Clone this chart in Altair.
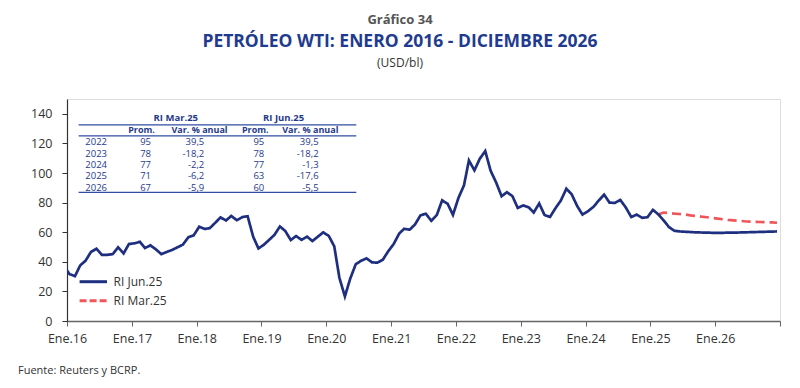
import altair as alt
import pandas as pd

# ---------------- data ----------------
# Monthly WTI average (USD/bl), from Dec-2015 to May-2025 (history)
hist_values = [
    37.2,
    31.7, 30.3, 37.5, 40.8, 46.7, 48.8, 44.7, 44.7, 45.2, 49.8, 45.7, 52.0,
    52.5, 53.5, 49.3, 51.1, 48.5, 45.2, 46.6, 48.0, 49.8, 51.6, 56.6, 57.9,
    63.7, 62.2, 62.7, 66.3, 70.0, 67.9, 71.0, 68.1, 70.2, 70.8, 57.0, 49.0,
    51.6, 55.0, 58.2, 63.9, 60.8, 54.7, 57.4, 54.8, 57.0, 54.0, 57.0, 59.9,
    57.5, 50.5, 29.2, 16.6, 28.6, 38.3, 40.7, 42.3, 39.6, 39.4, 41.4, 47.1,
    52.0, 59.1, 62.3, 61.7, 65.2, 71.4, 72.5, 67.7, 71.6, 81.5, 79.2, 71.7,
    83.2, 91.6, 108.5, 101.8, 109.6, 114.8, 101.6, 93.7, 84.3, 87.0, 84.4, 76.4,
    78.1, 76.8, 73.3, 79.4, 71.6, 70.3, 76.1, 81.4, 89.4, 85.6, 77.7, 71.9,
    74.2, 77.2, 81.3, 85.4, 80.0, 79.8, 81.8, 76.7, 70.2, 71.9, 69.7, 70.1,
    75.1, 72.0, 68.2, 63.5, 61.0,
]
# RI Jun.25 forecast, Jun-2025 .. Dec-2026
jun_forecast = [60.5, 60.3, 60.1, 59.9, 59.8, 59.7, 59.6,
                59.6, 59.6, 59.7, 59.7, 59.8, 59.9, 60.0, 60.1, 60.2, 60.3, 60.4, 60.5]
# RI Mar.25 path, Feb-2025 .. Dec-2026
mar_values = [72.0, 73.3, 73.0, 72.6, 72.3, 71.9, 71.4, 71.0, 70.5, 70.1, 69.6,
              69.2, 68.7, 68.3, 68.0, 67.7, 67.4, 67.2, 67.0, 66.9, 66.7, 66.6, 66.4]

# inset table
tbl_years = ["2022", "2023", "2024", "2025", "2026"]
mar_prom = [95, 78, 77, 71, 67]
mar_var = [39.5, -18.2, -2.2, -6.2, -5.9]
jun_prom = [95, 78, 77, 63, 60]
jun_var = [39.5, -18.2, -1.3, -17.6, -5.5]

x_tick_years = list(range(2016, 2028))
y_ticks = [0, 20, 40, 60, 80, 100, 120, 140]

series_names = ["RI Jun.25", "RI Mar.25"]


def month_dates(y, m, n):
    out = []
    for _ in range(n):
        out.append(f"{y:04d}-{m:02d}-15T00:00:00")
        m += 1
        if m > 12:
            m, y = 1, y + 1
    return out


blue_vals = hist_values + jun_forecast
df_blue = pd.DataFrame({"fecha": month_dates(2015, 12, len(blue_vals)),
                        "valor": blue_vals, "serie": series_names[0]})
df_red = pd.DataFrame({"fecha": month_dates(2025, 2, len(mar_values)),
                       "valor": mar_values, "serie": series_names[1]})

# ---------------- styling ----------------
W, H = 713, 222
FONT = "Open Sans"
BLUE = "#1f2f80"
RED = "#f0555a"
NAVY = "#1f3b8f"
TBL = "#1f3a8a"
LINE_TBL = "#2f4ea3"

x_scale = alt.Scale(domain=[alt.DateTime(year=2016, month=1, date=1),
                            alt.DateTime(year=2027, month=1, date=1)])
y_scale = alt.Scale(domain=[0, 150], nice=False)
color_scale = alt.Scale(domain=series_names, range=[BLUE, RED])
dash_scale = alt.Scale(domain=series_names, range=[[1, 0], [9, 5]])

x_axis = alt.Axis(
    values=[alt.DateTime(year=yy, month=1, date=1) for yy in x_tick_years],
    labelExpr="year(datum.value) == 2027 ? '' : 'Ene.' + timeFormat(datum.value, '%y')",
    title=None, grid=False, tickSize=5, labelPadding=6, labelFontSize=12.5,
    labelFont=FONT, labelColor="#333333", domainColor="#666666", tickColor="#666666",
    domainWidth=1.5, labelFlush=False,
)
y_axis = alt.Axis(values=y_ticks, title=None, grid=False, tickSize=5, labelPadding=10,
                  labelFontSize=12.5, labelFont=FONT, labelColor="#333333",
                  domainColor="#333333", tickColor="#333333", domainWidth=1.2)


def series_layer(df):
    return alt.Chart(df).mark_line(clip=True, strokeWidth=2.7).encode(
        x=alt.X("fecha:T", scale=x_scale, axis=x_axis),
        y=alt.Y("valor:Q", scale=y_scale, axis=y_axis),
        color=alt.Color("serie:N", scale=color_scale, legend=None),
        strokeDash=alt.StrokeDash("serie:N", scale=dash_scale, legend=None),
    )


def label(text, x, y, **kw):
    params = dict(font=FONT, baseline="middle")
    params.update(kw)
    return alt.Chart(pd.DataFrame({"t": [text]})).mark_text(**params).encode(
        text="t:N", x=alt.value(x), y=alt.value(y))


def hrule(x1, x2, y, **kw):
    return alt.Chart(pd.DataFrame({"a": [0]})).mark_rule(**kw).encode(
        x=alt.value(x1), x2=alt.value(x2), y=alt.value(y))


layers = [series_layer(df_red), series_layer(df_blue)]

# titles
layers.append(label("Gráfico 34", 333, -79, fontSize=13, fontWeight="bold", color="#555555"))
layers.append(label("PETRÓLEO WTI: ENERO 2016 - DICIEMBRE 2026", 333, -57,
                    fontSize=17.5, fontWeight="bold", color=NAVY))
layers.append(label("(USD/bl)", 333, -36, fontSize=12, color="#333333"))
layers.append(label("Fuente: Reuters y BCRP.", -49, 272, fontSize=11, align="left",
                    color="#333333"))

# legend (manual)
layers.append(hrule(12.6, 40, 182.7, color=BLUE, strokeWidth=3))
layers.append(hrule(12.6, 40, 201.7, color=RED, strokeWidth=3, strokeDash=[7, 3]))
layers.append(label(series_names[0], 46.6, 182.7, fontSize=12, align="left", color="#333333"))
layers.append(label(series_names[1], 46.6, 201.7, fontSize=12, align="left", color="#333333"))

# inset table
layers.append(label("RI Mar.25", 108.8, 19.3, fontSize=9.5, fontWeight="bold", color=TBL))
layers.append(label("RI Jun.25", 216.6, 19.3, fontSize=9.5, fontWeight="bold", color=TBL))
for hx, ht in [(74.5, "Prom."), (132.5, "Var. % anual"), (188.3, "Prom."), (243.3, "Var. % anual")]:
    layers.append(label(ht, hx, 30.8, fontSize=9, fontWeight="bold", color=TBL))
for yy in [25.9, 36.9, 93.3]:
    layers.append(hrule(11.6, 289.3, yy, color=LINE_TBL, strokeWidth=1.2))


def fmt(v):
    return f"{v:.1f}".replace(".", ",")


for i in range(len(tbl_years)):
    ry = 43.2 + i * 11.4
    layers.append(label(tbl_years[i], 18.3, ry, fontSize=9.5, align="left", color=TBL))
    layers.append(label(str(mar_prom[i]), 84, ry, fontSize=9.5, align="right", color=TBL))
    layers.append(label(fmt(mar_var[i]), 137.3, ry, fontSize=9.5, align="right", color=TBL))
    layers.append(label(str(jun_prom[i]), 197.3, ry, fontSize=9.5, align="right", color=TBL))
    layers.append(label(fmt(jun_var[i]), 251.6, ry, fontSize=9.5, align="right", color=TBL))

chart = alt.layer(*layers).properties(
    width=W, height=H,
    autosize=alt.AutoSizeParams(type="none"),
    padding={"left": 59, "top": 91, "right": 12, "bottom": 59},
).configure_view(stroke=None).configure(background="white")

chart.save("out.html", embed_options={"renderer": "svg", "actions": False})
